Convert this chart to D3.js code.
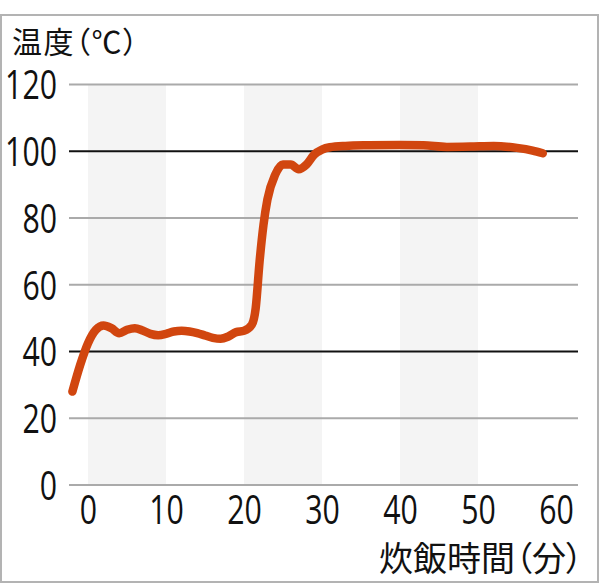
<!DOCTYPE html>
<html><head><meta charset="utf-8">
<script src="https://cdn.jsdelivr.net/npm/d3@7"></script>
<style>
html,body{margin:0;padding:0;background:#fff;}
svg{display:block;}
</style></head>
<body>
<svg id="c" width="600" height="588"></svg>
<script>
// ---- data ----
const timeMin = [-2,-1,0,1,2,3,4,5,6,7,8,9,10,11,12,13,14,15,16,17,18,19,20,21,21.5,22,22.5,23,24,25,26,27,28,29,30,31,33,36,40,43,46,49,52,55,57,58.3];
const tempC   = [28,36,42.5,46.5,47.8,47,45.5,46.5,47,46.3,45.3,44.9,45.3,46,46.2,46,45.5,44.8,44.1,43.8,44.5,45.8,46.2,48,53,67,78,85.5,93,96,96,94.6,96,99,100.5,101.2,101.6,101.8,101.9,101.8,101.3,101.4,101.6,101,100.2,99.4];
const xTicks = [0,10,20,30,40,50,60];
const yTicks = [0,20,40,60,80,100,120];
const darkLines = [40,100];
const bands = [[0,10],[20,30],[40,50]];
const yTitle = "温度（℃）";
const xTitle = "炊飯時間（分）";

const svg = d3.select("#c");
const x = d3.scaleLinear().domain([0,60]).range([88,556]);
const y = d3.scaleLinear().domain([0,120]).range([485,84.5]);
const gridX0 = 69, gridX1 = 578;

// frame
svg.append("rect").attr("x",1).attr("y",15).attr("width",597).attr("height",567)
  .attr("fill","none").attr("stroke","#b3b3b3").attr("stroke-width",2);

// bands
svg.append("g").selectAll("rect").data(bands).join("rect")
  .attr("x",d=>x(d[0])).attr("width",d=>x(d[1])-x(d[0]))
  .attr("y",y(120)).attr("height",y(0)-y(120))
  .attr("fill","#f4f4f4");

// gridlines
svg.append("g").selectAll("line").data(yTicks).join("line")
  .attr("x1",gridX0).attr("x2",gridX1)
  .attr("y1",d=>y(d)).attr("y2",d=>y(d))
  .attr("stroke",d=>darkLines.includes(d)?"#111":"#aaaaaa")
  .attr("stroke-width",2);

const numFont = "'Open Sans','Noto Sans',sans-serif";
const digitW = 17.3;
// y labels
const yAxis = d3.axisLeft(y).tickValues(yTicks).tickSize(0).tickPadding(0);
const gy = svg.append("g").attr("transform","translate(57,0)").call(yAxis);
gy.select(".domain").remove();
gy.selectAll("text").attr("font-family",numFont).attr("font-size",40).attr("fill","#111")
  .attr("dy","0.36em")
  .attr("textLength",d=>String(d).length*digitW).attr("lengthAdjust","spacingAndGlyphs");

// x labels
const xAxis = d3.axisBottom(x).tickValues(xTicks).tickSize(0).tickPadding(0);
const gx = svg.append("g").attr("transform","translate(0,495)").call(xAxis);
gx.select(".domain").remove();
gx.selectAll("text").attr("font-family",numFont).attr("font-size",40).attr("fill","#111")
  .attr("dy","0.72em")
  .attr("textLength",d=>String(d).length*digitW).attr("lengthAdjust","spacingAndGlyphs");

// line
const pts = timeMin.map((t,i)=>[t,tempC[i]]);
svg.append("path").datum(pts)
  .attr("d",d3.line().x(d=>x(d[0])).y(d=>y(d[1])).curve(d3.curveMonotoneX))
  .attr("fill","none").attr("stroke","#d1460f").attr("stroke-width",8.5)
  .attr("stroke-linecap","round").attr("stroke-linejoin","round");

// titles
const cjk = "'Noto Sans CJK JP','Noto Sans CJK SC',sans-serif";
svg.append("text").attr("x",12).attr("y",53).text(yTitle)
  .attr("font-family",cjk).attr("font-size",30).attr("fill","#111")
  .attr("textLength",126).attr("lengthAdjust","spacing")
  .style("font-feature-settings","'palt'");
svg.append("text").attr("x",583).attr("y",571).attr("text-anchor","end").text(xTitle)
  .attr("font-family",cjk).attr("font-size",34).attr("fill","#111")
  .style("font-feature-settings","'palt'");
</script>
</body></html>
